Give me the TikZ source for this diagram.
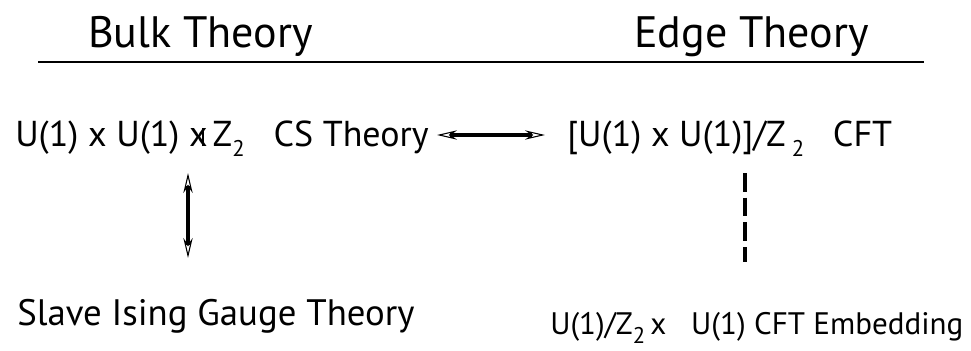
\documentclass[tikz,border=0pt]{standalone}
\usepackage{fontspec}
\setmainfont{PT Sans}
\usetikzlibrary{arrows.meta}
\newcommand{\lowsub}[1]{\raisebox{-0.3em}{\fontsize{17}{17}\selectfont #1}}
\newcommand{\semidir}{\rlap{x}\hspace{0.36em}\rule[0pt]{1.3pt}{0.5em}\hspace{0.08em}}
\tikzset{
  lbl/.style={anchor=base west, inner sep=0pt, font=\fontsize{27}{27}\selectfont},
  lblbig/.style={anchor=base west, inner sep=0pt, font=\fontsize{27.6}{27.6}\selectfont},
  lblsmall/.style={anchor=base west, inner sep=0pt, font=\fontsize{23.3}{23.3}\selectfont},
  head/.style={anchor=base west, inner sep=0pt, font=\fontsize{33}{33}\selectfont},
  arr/.style={line width=2.4pt, {Stealth[open,line width=0.8pt,length=15pt,width=7pt]}-{Stealth[open,line width=0.8pt,length=15pt,width=7pt]}},
  dsh/.style={line width=3pt, dash pattern=on 14pt off 4.5pt}
}
\begin{document}
\begin{tikzpicture}[x=0.75pt,y=-0.75pt]
\useasboundingbox (0,0) rectangle (971,350);
\node[head] (bulk) at (88,47) {Bulk Theory};
\node[head] (edge) at (634,47) {Edge Theory};
\coordinate (rl) at (38,62);
\coordinate (rr) at (924,62);
\draw[line width=1.6pt] (rl) -- (rr);
\node[lbl] (cs) at (15,146) {U(1) x U(1) \semidir\,Z\lowsub{2}\ \ \ CS Theory};
\node[lbl] (cft) at (567,146) {[U(1) x U(1)]/Z\,\lowsub{2}\ \ \ CFT};
\node[lblbig] (ising) at (17,325) {Slave Ising Gauge Theory};
\node[lblsmall] (emb) at (550,334) {U(1)/Z\lowsub{2}\,x\ \ \ U(1) CFT Embedding};
\coordinate (h1) at (437,135);
\coordinate (h2) at (545,135);
\draw[arr] (h1) -- (h2);
\coordinate (v1) at (188,173);
\coordinate (v2) at (188,258);
\draw[arr] (v1) -- (v2);
\coordinate (d1) at (745,173);
\coordinate (d2) at (745,262);
\draw[dsh] (d1) -- (d2);
\end{tikzpicture}
\end{document}
